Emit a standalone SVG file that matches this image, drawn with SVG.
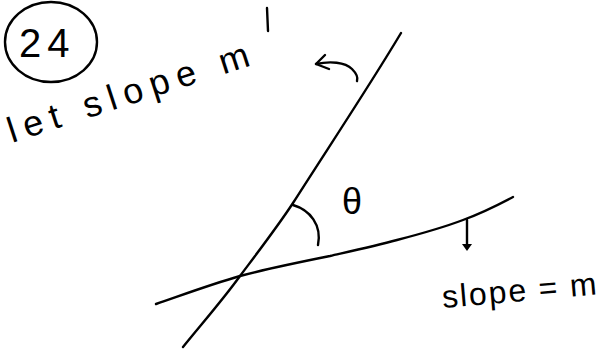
<svg xmlns="http://www.w3.org/2000/svg" width="602" height="353" viewBox="0 0 602 353">
<style>
.ink{fill:none;stroke:#000;stroke-width:2.4;stroke-linecap:round;stroke-linejoin:round}
.hw{font-family:"Liberation Sans","DejaVu Sans",sans-serif;fill:#000}
</style>
<rect width="602" height="353" fill="#fff"/>
<g id="label-24">
<ellipse class="ink" cx="51" cy="42" rx="46" ry="40"/>
<text class="hw" x="19" y="57" font-size="40" letter-spacing="6">24</text>
</g>
<g id="label-let">
<text class="hw" x="12" y="143" font-size="36" transform="rotate(-18 12 143)" textLength="252" lengthAdjust="spacing">let slope m</text>
<path class="ink" d="M267,8 L268,31"/>
</g>
<g id="rotate-arrow">
<path class="ink" d="M316,64 C330,61 345,62 352,69 C357,74 358,78 357,81"/>
<path class="ink" d="M325,55 L316,64 L329,69"/>
</g>
<g id="lines">
<path class="ink" d="M183,347 C205,320 225,297 240,276 C258,252 278,226 293,203 C330,145 370,85 401,33"/>
<path class="ink" d="M156,304 C185,294 212,284 240,276 C270,268 300,262 330,256 C352,251 375,246 397,240 C420,234 442,228 463,220 C482,213 498,205 513,197"/>
<path class="ink" d="M293,205 C310,210 322,225 318,245"/>
</g>
<g id="theta">
<text class="hw" x="342" y="214" font-size="36">θ</text>
</g>
<g id="down-arrow">
<path class="ink" d="M467,220 L467,248"/>
<path d="M462,244 L472,244 L467,251 Z" fill="#000"/>
</g>
<g id="label-m">
<text class="hw" x="443" y="308" font-size="32" transform="rotate(-5 443 308)" textLength="155" lengthAdjust="spacing">slope = m</text>
</g>
</svg>
